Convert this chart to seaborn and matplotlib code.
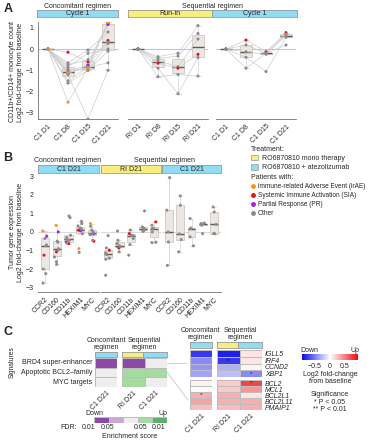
import numpy as np
import pandas as pd
import seaborn as sns
import matplotlib.pyplot as plt
from matplotlib.colors import ListedColormap, LinearSegmentedColormap, Normalize
from matplotlib.lines import Line2D
from matplotlib.patches import Patch
import matplotlib.cm as cm

# ---------------- data ----------------
# panel A: monocyte count, log2 FC per patient
conc_days = ['C1 D1', 'C1 D8', 'C1 D15', 'C1 D21']
runin_days = ['RI D1', 'RI D8', 'RI D15', 'RI D21']
seq_days = ['C1 D1', 'C1 D8', 'C1 D15', 'C1 D21']

conc_status = ['irAE', 'SIA', 'SIA', 'PR', 'Other', 'Other', 'Other', 'Other',
               'Other', 'Other', 'Other', 'irAE']
conc_values = [[0, -2.5, -0.9, 1.25],
               [0, -0.15, -0.6, 1.2],
               [0, -1.15, -0.8, 0.4],
               [0, -1.05, -0.75, 1.15],
               [0, -0.65, -0.05, 0.8],
               [0, -0.75, -0.5, 0.3],
               [0, -0.85, -0.2, 0.0],
               [0, -0.95, -1.0, -0.1],
               [0, -1.2, -3.3, -1.0],
               [0, -1.5, -0.85, -0.65],
               [0, -1.6, -1.0, 0.25],
               [0, -1.1, -0.9, 1.25]]

runin_status = ['Other', 'Other', 'Other', 'SIA', 'Other', 'Other']
runin_values = [[0, -0.36, -0.2, 1.1],
                [0, -0.45, -0.33, 0.73],
                [0, -0.55, -0.83, 0.47],
                [0, -0.67, -0.9, -0.25],
                [0, -0.9, -2.1, -0.4],
                [0, -1.3, -1.2, -1.27]]

seq_status = ['SIA', 'Other', 'Other', 'Other', 'Other']
seq_values = [[0, 0.42, -0.13, 0.77],
              [0, 0.19, -0.2, 0.7],
              [0, -0.13, -0.25, 0.63],
              [0, -0.39, -1.06, 0.55],
              [0, -0.9, -0.2, 0.19]]

# panel B: tumor gene expression, log2 FC
genes = ['CCR2', 'CD160', 'CD11b', 'HEXIM1', 'MYC']
b_conc = {
    'CCR2': ([0.05, -0.23, -1.25, -0.35, -0.7, -0.75, -2.0, -2.24, -2.75],
             ['irAE', 'PR', 'SIA'] + ['Other'] * 6),
    'CD160': ([0.35, 0.0, -1.07, -0.5, -0.55, -0.9, -0.98, -1.35, -1.6, -1.75],
              ['irAE', 'PR', 'SIA'] + ['Other'] * 7),
    'CD11b': ([-0.54, -0.63, 0.86, 0.77, -0.18, -0.3, -0.4, -0.45, -0.6],
              ['PR', 'SIA'] + ['Other'] * 7),
    'HEXIM1': ([-0.9, 0.05, 0.1, 0.57, 0.45, 0.32, 0.2, 0.14, -0.1, -1.1],
               ['irAE', 'PR', 'SIA'] + ['Other'] * 7),
    'MYC': ([0.45, -0.1, -0.5, 0.3, 0.1, 0.0, -0.05, -0.15, -0.45],
            ['irAE', 'PR', 'SIA'] + ['Other'] * 6),
}
b_runin = {
    'CCR2': ([-0.99, -0.2, -0.86, -1.13, -1.22, -1.4, -1.47, -2.33], ['SIA'] + ['Other'] * 7),
    'CD160': ([-0.86, 0.05, -0.45, -0.63, -0.75, -0.8, -1.07], ['SIA'] + ['Other'] * 6),
    'CD11b': ([-0.09, 0.1, -0.18, -0.2, -0.36, -0.68, -1.25], ['SIA'] + ['Other'] * 6),
    'HEXIM1': ([0.15, 1.13, 0.27, 0.2, 0.1, 0.03], ['SIA'] + ['Other'] * 5),
    'MYC': ([0.54, 0.36, 0.2, 0.18, 0.0, -0.55, -0.57], ['SIA'] + ['Other'] * 6),
}
b_seq = {
    'CCR2': ([2.92, 1.17, 0.0, -0.54, -1.8], ['Other'] * 5),
    'CD160': ([1.94, 1.43, -0.1, -0.41, -1.07], ['Other'] * 5),
    'CD11b': ([0.72, 0.21, 0.18, -0.27, -0.75], ['Other'] * 5),
    'HEXIM1': ([0.48, 0.45, 0.4, 0.36, -0.09], ['Other'] * 5),
    'MYC': ([1.34, 1.07, 0.4, -0.09, -0.1], ['Other'] * 5),
}

# panel C: signature enrichment (-2 down FDR<0.01 ... 2 up FDR<0.01)
signatures = ['BRD4 super-enhancer', 'Apoptotic BCL2–family', 'MYC targets']
sig_conc = [-2, 0, 0]
sig_runin = [-2, 1, 1]
sig_seq = [0, 1, 0]

genes_g1 = ['IGLL5', 'IRF4', 'CCND2', 'XBP1']
genes_g2 = ['BCL2', 'MCL1', 'BCL2L1', 'BCL2L11', 'PMAIP1']
fc_conc = [-0.75, -0.45, -0.4, -0.35, 0.05, 0.02, 0.3, 0.35, 0.25]
fc_runin = [-0.85, -0.75, -0.3, -0.25, 0.2, 0.2, 0.3, 0.3, 0.25]
fc_seq = [0.1, 0.1, 0.05, -0.45, 0.7, 0.4, 0.1, 0.3, 0.3]
p_conc = ['', '', '', '', '', '', '*', '', '']
p_runin = ['', '**', '', '', '', '', '', '', '']
p_seq = ['', '', '', '*', '*', '', '', '', '']

# ---------------- style ----------------
sns.set_theme(style='white')
plt.rcParams['font.family'] = ['Liberation Sans', 'DejaVu Sans']
plt.rcParams['font.size'] = 5

W, H = 370, 440
fig = plt.figure(figsize=(W / 100, H / 100), dpi=100)

CYAN = '#8FDCF4'
YELLOW = '#F8EE7E'
pal = {'Other': '#8C8C8C', 'irAE': '#F7941D', 'SIA': '#E8101A', 'PR': '#9B1FE8'}
hue_order = ['Other', 'irAE', 'SIA', 'PR']
FS = 5


def box(x0, y0, x1, y1):
    return [x0 / W, 1 - y1 / H, (x1 - x0) / W, (y1 - y0) / H]


def strip(x0, y0, x1, y1, color, label=''):
    ax = fig.add_axes(box(x0, y0, x1, y1))
    ax.set_facecolor(color)
    ax.set_xticks([])
    ax.set_yticks([])
    for s in ax.spines.values():
        s.set_color('#9a9a9a')
        s.set_linewidth(0.6)
    if label:
        ax.text(0.5, 0.45, label, ha='center', va='center', fontsize=FS,
                transform=ax.transAxes)
    return ax


def ftext(x, y, s, **kw):
    kw.setdefault('fontsize', FS)
    kw.setdefault('ha', 'center')
    kw.setdefault('va', 'center')
    fig.text(x / W, 1 - y / H, s, **kw)


def style_axis(ax, left):
    sns.despine(ax=ax, left=not left)
    for s in ['left', 'bottom']:
        ax.spines[s].set_color('#555555')
        ax.spines[s].set_linewidth(0.5)
    ax.tick_params(axis='both', length=2, width=0.5, color='#555555',
                   labelsize=FS, pad=1)
    ax.set_xlabel('')
    ax.set_ylabel('')
    if not left:
        ax.set_yticks([])


def boxkw(width):
    return dict(color='#EDE7E0', linecolor='#C9C0B8', linewidth=0.5, width=width,
                showfliers=False, medianprops=dict(color='#5a5a5a', linewidth=1.0),
                whiskerprops=dict(color='#CFCFCF'), capprops=dict(color='#CFCFCF'))


def panel_a(ax, days, values, status, left):
    rows = []
    for pid, (vals, st) in enumerate(zip(values, status)):
        for i, v in enumerate(vals):
            rows.append(dict(patient=pid, pos=i, value=v, status=st))
    df = pd.DataFrame(rows)
    ax.axhline(0, color='#A9CFE3', lw=0.8, zorder=0)
    sns.boxplot(data=df, x='pos', y='value', ax=ax, **boxkw(0.6))
    sns.lineplot(data=df, x='pos', y='value', units='patient', estimator=None,
                 color='#CDCDCD', lw=0.5, ax=ax, legend=False, zorder=2.5)
    sns.stripplot(data=df, x='pos', y='value', hue='status', hue_order=hue_order,
                  palette=pal, jitter=False, size=2.2, legend=False, ax=ax, zorder=3)
    ax.set_xlim(-0.5, 3.5)
    ax.set_ylim(-3.29, 1.27)
    style_axis(ax, left)
    if left:
        ax.set_yticks([1, 0, -1, -2, -3])
    ax.set_xticks(range(len(days)))
    ax.set_xticklabels(days, rotation=45, ha='right', rotation_mode='anchor')


def panel_b(ax, groups, left):
    rows = []
    for g in genes:
        vals, st = groups[g]
        for v, s in zip(vals, st):
            rows.append(dict(gene=g, value=v, status=s))
    df = pd.DataFrame(rows)
    ax.axhline(0, color='#DADADA', lw=0.8, zorder=0)
    sns.boxplot(data=df, x='gene', y='value', order=genes, ax=ax, **boxkw(0.7))
    sns.stripplot(data=df, x='gene', y='value', order=genes, hue='status',
                  hue_order=hue_order, palette=pal, jitter=0.2, size=2.2,
                  legend=False, ax=ax, zorder=3)
    ax.set_xlim(-0.6, 4.6)
    ax.set_ylim(-3.23, 3.06)
    style_axis(ax, left)
    if left:
        ax.spines['left'].set_visible(False)
        ax.set_yticks([3, 2, 1, 0, -1, -2, -3])
    ax.set_xticks(range(len(genes)))
    ax.set_xticklabels(genes, rotation=45, ha='right', rotation_mode='anchor')


np.random.seed(7)

# ---------------- panel A ----------------
ftext(8, 9, 'A', fontsize=9, fontweight='bold')
ftext(78, 6, 'Concomitant regimen')
ftext(212, 6, 'Sequential regimen')
strip(37, 10, 118, 17, CYAN, 'Cycle 1')
strip(128, 10, 212, 17, YELLOW, 'Run-in')
strip(212, 10, 297, 17, CYAN, 'Cycle 1')
ftext(17, 72, 'CD11b+/CD14+ monocyte count\nLog2 fold-change from baseline',
      rotation=90, linespacing=1.2)

panel_a(fig.add_axes(box(38, 22, 118, 119)), conc_days, conc_values, conc_status, True)
panel_a(fig.add_axes(box(128, 22, 208, 119)), runin_days, runin_values, runin_status, False)
panel_a(fig.add_axes(box(216, 22, 296, 119)), seq_days, seq_values, seq_status, False)

# legend
leg1 = fig.legend(handles=[Patch(facecolor=YELLOW, edgecolor='#9a9a9a', lw=0.5,
                                 label='RO6870810 mono therapy'),
                           Patch(facecolor=CYAN, edgecolor='#9a9a9a', lw=0.5,
                                 label='RO6870810 + atezolizumab')],
                  title='Treatment:', loc='upper left', bbox_to_anchor=(251 / W, 1 - 146 / H),
                  frameon=False, fontsize=FS, title_fontsize=FS, handlelength=1.0,
                  handleheight=0.8, handletextpad=0.6, labelspacing=0.3,
                  borderpad=0, borderaxespad=0, alignment='left')
pt_labels = ['immune-related Adverse Event (irAE)', 'Systemic Immune Activation (SIA)',
             'Partial Response (PR)', 'Other']
pt_keys = ['irAE', 'SIA', 'PR', 'Other']
leg2 = fig.legend(handles=[Line2D([], [], marker='o', ls='', color=pal[k], markersize=2.5,
                                  label=l) for k, l in zip(pt_keys, pt_labels)],
                  title='Patients with:', loc='upper left', bbox_to_anchor=(251 / W, 1 - 174 / H),
                  frameon=False, fontsize=4.7, title_fontsize=FS, handlelength=0.5,
                  handletextpad=0.5, labelspacing=0.3, borderpad=0, borderaxespad=0,
                  alignment='left')

# ---------------- panel B ----------------
ftext(8, 158, 'B', fontsize=9, fontweight='bold')
ftext(68, 160, 'Concomitant regimen')
ftext(165, 160, 'Sequential regimen')
strip(38, 165, 99, 173, CYAN, 'C1 D21')
strip(101, 165, 161, 173, YELLOW, 'RI D21')
strip(162, 165, 221, 173, CYAN, 'C1 D21')
ftext(17, 232, 'Tumor gene expression\nLog2 fold-change from baseline',
      rotation=90, linespacing=1.2)

panel_b(fig.add_axes(box(38, 175, 99, 292)), b_conc, True)
panel_b(fig.add_axes(box(101, 175, 161, 292)), b_runin, False)
panel_b(fig.add_axes(box(162, 175, 221, 292)), b_seq, False)

# ---------------- panel C ----------------
ftext(8, 332, 'C', fontsize=9, fontweight='bold')
ftext(12, 362, 'Signatures', rotation=90, fontsize=4.8)

sig_colors = ['#8A4AA6', '#C6A8D3', '#EEEEEE', '#A5DAA0', '#5BB06A']
sig_cmap = ListedColormap(sig_colors)
hm_kw = dict(cbar=False, linewidths=0.5, linecolor='#BDBDBD')

ftext(106, 344, 'Concomitant\nregimen', linespacing=1.1)
ftext(144, 344, 'Sequential\nregimen', linespacing=1.1)
strip(95, 352, 117, 357, CYAN)
strip(122, 352, 143, 357, YELLOW)
strip(143, 352, 167, 357, CYAN)

ax = fig.add_axes(box(95, 358, 117, 387))
sns.heatmap(pd.DataFrame({'C1 D21': sig_conc}, index=signatures), cmap=sig_cmap,
            vmin=-2.5, vmax=2.5, ax=ax, xticklabels=True, yticklabels=True, **hm_kw)
ax.tick_params(length=0, labelsize=FS, pad=2)
ax.set_yticklabels(signatures, rotation=0)
ax.set_xticklabels(['C1 D21'], rotation=45, ha='right', rotation_mode='anchor')

ax = fig.add_axes(box(122, 358, 167, 387))
sns.heatmap(pd.DataFrame({'RI D21': sig_runin, 'C1 D21': sig_seq}, index=signatures),
            cmap=sig_cmap, vmin=-2.5, vmax=2.5, ax=ax, xticklabels=True,
            yticklabels=False, **hm_kw)
ax.tick_params(length=0, labelsize=FS, pad=2)
ax.set_xticklabels(['RI D21', 'C1 D21'], rotation=45, ha='right', rotation_mode='anchor')

# enrichment legend
ftext(85, 413, 'Down', ha='left')
ftext(167, 413, 'Up', ha='right')
ax = fig.add_axes(box(94, 417, 167, 423))
sns.heatmap(pd.DataFrame([[-2, -1, 0, 1, 2]]), cmap=sig_cmap, vmin=-2.5, vmax=2.5,
            ax=ax, xticklabels=False, yticklabels=False, **hm_kw)
for xp, lab in zip([-0.4, 0.9, 3.2, 4.45], ['0.01', '0.05', '0.05', '0.01']):
    ax.text(xp, 1.75, lab, ha='center', va='center', fontsize=FS)
ax.text(-1.7, 1.75, 'FDR:', ha='center', va='center', fontsize=FS)
ftext(130, 436, 'Enrichment score')

# connectors
for (x0, y0, x1, y1) in [(167, 363, 186, 363), (167, 372, 188, 400)]:
    fig.add_artist(Line2D([x0 / W, x1 / W], [1 - y0 / H, 1 - y1 / H],
                          transform=fig.transFigure, color='#BDBDBD', lw=0.5))

# gene heatmaps
fc_cmap = LinearSegmentedColormap.from_list('bwr2', ['#0A0AEE', '#FFFFFF', '#EE0A0A'])
VMAX = 0.93
ftext(200, 334, 'Concomitant\nregimen', linespacing=1.1)
ftext(240, 334, 'Sequential\nregimen', linespacing=1.1)
strip(190, 342, 212, 348, CYAN)
strip(217, 342, 238, 348, YELLOW)
strip(238, 342, 262, 348, CYAN)

n1 = len(genes_g1)
for (y0, y1, gl, sl) in [(350, 377, genes_g1, slice(0, n1)),
                         (380, 410, genes_g2, slice(n1, None))]:
    ax = fig.add_axes(box(190, y0, 212, y1))
    sns.heatmap(pd.DataFrame({'C1 D21': fc_conc[sl]}, index=gl), cmap=fc_cmap,
                vmin=-VMAX, vmax=VMAX, annot=np.array([p_conc[sl]]).T, fmt='',
                annot_kws=dict(fontsize=4.5, color='#222222'), ax=ax,
                xticklabels=True, yticklabels=False, **hm_kw)
    ax.tick_params(length=0, labelsize=FS, pad=2)
    if y0 == 380:
        ax.set_xticklabels(['C1 D21'], rotation=45, ha='right', rotation_mode='anchor')
    else:
        ax.set_xticks([])

    ax = fig.add_axes(box(217, y0, 262, y1))
    sns.heatmap(pd.DataFrame({'RI D21': fc_runin[sl], 'C1 D21': fc_seq[sl]}, index=gl),
                cmap=fc_cmap, vmin=-VMAX, vmax=VMAX,
                annot=np.array([p_runin[sl], p_seq[sl]]).T, fmt='',
                annot_kws=dict(fontsize=4.5, color='#222222'), ax=ax,
                xticklabels=True, yticklabels=True, **hm_kw)
    ax.yaxis.tick_right()
    ax.tick_params(length=0, labelsize=FS, pad=2)
    ax.set_yticklabels(gl, rotation=0, fontstyle='italic')
    if y0 == 380:
        ax.set_xticklabels(['RI D21', 'C1 D21'], rotation=45, ha='right',
                           rotation_mode='anchor')
    else:
        ax.set_xticks([])

# fold-change colorbar
ftext(300, 350, 'Down', ha='left')
ftext(359, 350, 'Up', ha='right')
cax = fig.add_axes(box(302, 354, 358, 360))
sm = cm.ScalarMappable(norm=Normalize(-VMAX, VMAX), cmap=fc_cmap)
cb = fig.colorbar(sm, cax=cax, orientation='horizontal', ticks=[-0.5, 0, 0.5])
cb.outline.set_visible(False)
cb.ax.tick_params(length=2, width=0.5, color='white', labelsize=FS, pad=0.5)
cb.ax.set_xticklabels(['−0.5', '0', '0.5'])
ftext(330, 374, 'Log2 fold-change')
ftext(330, 381, 'from baseline')
ftext(330, 394, 'Significance')
ftext(330, 402, '* P < 0.05')
ftext(330, 409, '** P < 0.01')

fig.savefig('out.png', dpi=100)
